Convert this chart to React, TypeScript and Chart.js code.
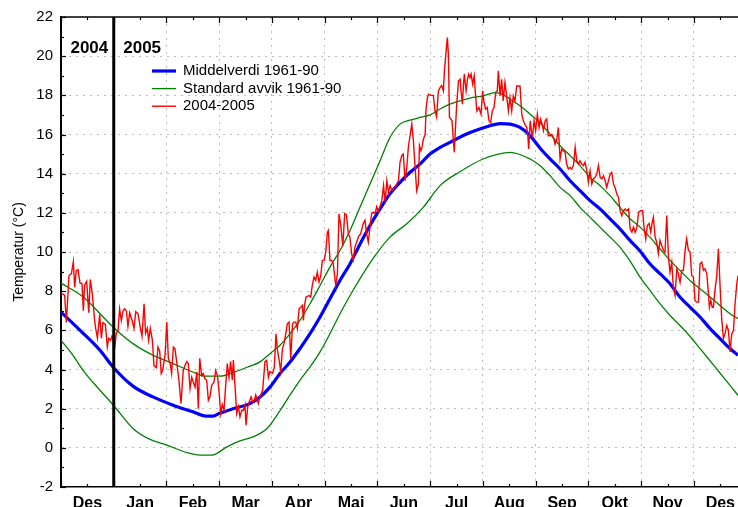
import React, { useEffect, useRef } from "react";
import { Chart, registerables } from "chart.js";

Chart.register(...registerables);

const FONT = "'Liberation Sans', Arial, Helvetica, sans-serif";

// ---------- axis / labels ----------
const monthLabels = ["Des", "Jan", "Feb", "Mar", "Apr", "Mai", "Jun", "Jul", "Aug", "Sep", "Okt", "Nov", "Des"];
const monthSpan = 365 / 12; // days per month step on the axis
const axisMaxDay = 390.4;
const yMin = -2;
const yMax = 22;
const yearBoundaryDay = 365 / 12;
const yearLabels = ["2004", "2005"];
const legendLabels = ["Middelverdi 1961-90", "Standard avvik 1961-90", "2004-2005"];
const yTitle = "Temperatur (°C)";

// ---------- data (day 0 = 1 Dec 2004) ----------
const meanDays = [0, 11, 22.5, 30, 41.5, 53, 64.6, 76.1, 83.6, 87.7, 91.1, 99.2, 109, 114.8, 120.5, 126.3, 132.1, 137.8, 143.6, 149.4, 155.1, 160.9, 166.7, 172.4, 178.2, 184, 189.7, 195.5, 201.3, 207, 212.8, 218.6, 224.3, 235.9, 247.4, 253.2, 259, 264.7, 270.5, 276.3, 282, 287.8, 293.6, 299.3, 305.1, 310.8, 316.6, 322.3, 328.1, 333.9, 339.6, 345.4, 351.2, 356.9, 362.7, 368.5, 374.3, 380, 385.8, 390.4];
const meanTemps = [6.93, 6.0, 4.98, 4.13, 3.15, 2.6, 2.18, 1.84, 1.62, 1.62, 1.75, 2.0, 2.26, 2.6, 3.1, 3.8, 4.38, 5.07, 5.83, 6.68, 7.61, 8.55, 9.4, 10.4, 11.35, 12.2, 12.97, 13.56, 14.07, 14.49, 15.0, 15.34, 15.6, 16.1, 16.45, 16.56, 16.53, 16.36, 15.94, 15.3, 14.75, 14.24, 13.64, 13.13, 12.62, 12.2, 11.69, 11.18, 10.59, 10.05, 9.4, 8.89, 8.38, 7.7, 7.19, 6.68, 6.09, 5.58, 5.07, 4.73];

const upperDays = [0, 12.9, 22.5, 30, 41.5, 53, 64.6, 77.3, 83, 91.7, 100.3, 107.8, 114.8, 120.5, 126.3, 132.1, 137.8, 143.6, 149.4, 155.1, 160.9, 166.7, 172.4, 178.2, 184, 189.7, 195.5, 201.3, 207, 212.8, 218.6, 224.3, 235.9, 243.4, 250.3, 254.3, 259, 264.7, 270.5, 276.3, 282, 287.8, 293.6, 299.3, 305.1, 310.8, 316.6, 322.3, 328.1, 333.9, 339.6, 345.4, 351.2, 356.9, 362.7, 368.5, 374.3, 380, 385.8, 390.4];
const upperTemps = [8.41, 7.7, 6.85, 6.17, 5.32, 4.73, 4.3, 3.83, 3.66, 3.66, 3.88, 4.13, 4.39, 4.81, 5.24, 5.83, 6.51, 7.36, 8.29, 9.23, 10.08, 11.1, 12.28, 13.47, 14.66, 15.85, 16.53, 16.73, 16.87, 17.0, 17.3, 17.55, 17.86, 17.97, 18.14, 18.06, 17.8, 17.47, 17.04, 16.6, 16.02, 15.43, 14.92, 14.41, 13.81, 13.39, 12.88, 12.28, 11.7, 11.27, 10.76, 10.16, 9.57, 9.06, 8.55, 8.12, 7.7, 7.27, 6.85, 6.6];

const lowerDays = [0, 6.2, 12.7, 22.5, 30, 41.5, 51.3, 61.1, 72.7, 80.2, 87.1, 95.7, 103.2, 110.7, 118.8, 126.3, 132.1, 137.8, 143.6, 149.4, 155.1, 160.9, 166.7, 179.2, 189.7, 199.4, 208.9, 218.6, 230.1, 243.4, 259, 270.5, 276.3, 282, 287.8, 293.6, 299.3, 305.1, 310.8, 316.6, 322.3, 328.1, 333.9, 339.6, 345.4, 351.2, 356.9, 362.7, 368.5, 372.5, 380, 385.8, 390.4];
const lowerTemps = [5.49, 4.81, 3.96, 2.94, 2.2, 0.99, 0.43, 0.14, -0.25, -0.37, -0.37, 0.05, 0.36, 0.56, 0.99, 1.9, 2.7, 3.45, 4.13, 4.9, 5.83, 6.85, 7.78, 9.57, 10.76, 11.44, 12.28, 13.39, 14.1, 14.75, 15.09, 14.75, 14.41, 13.9, 13.3, 12.88, 12.28, 11.77, 11.27, 10.76, 10.25, 9.55, 8.72, 8.04, 7.36, 6.76, 6.25, 5.7, 5.07, 4.64, 3.82, 3.19, 2.68];

const obsDays = [0, 2.1, 3.1, 4.6, 6, 7.1, 7.9, 8.8, 9.8, 11, 12.1, 12.9, 13.6, 14.8, 16, 16.9, 18, 19.4, 20, 21, 22.3, 23.3, 24.2, 25.6, 26.7, 27.5, 28.6, 29.4, 31, 31.9, 32.9, 33.8, 34.8, 35.8, 36.7, 37.7, 38.6, 39.6, 41, 42.1, 43.1, 44.4, 45.6, 46.7, 47.9, 48.8, 49.8, 50.5, 51.5, 52.7, 53.6, 55, 55.9, 56.9, 57.8, 58.6, 60, 61, 61.9, 62.9, 63.8, 64.8, 65.7, 66.7, 68, 69.2, 70.5, 71.5, 72.5, 73.4, 74.4, 75.4, 76.3, 77.3, 78.3, 79.2, 80, 81.1, 82, 83, 84, 85, 85.9, 86.9, 88.2, 89.2, 90.2, 91.1, 92.1, 93, 94, 94.9, 95.9, 96.9, 97.8, 98.8, 99.4, 100.4, 101.3, 102.3, 103.2, 104.2, 105.2, 106.1, 106.7, 107.7, 108.6, 109.6, 110.6, 111.5, 112.3, 113.8, 114.7, 116.3, 117.6, 118.6, 119.6, 120.5, 122, 123, 124, 124.8, 125.8, 126.7, 127.7, 128.6, 129.6, 130.5, 131.5, 132.5, 133.5, 134.4, 135.4, 136.3, 137.3, 138.3, 139.2, 139.8, 140.4, 141.3, 143, 144, 144.9, 145.9, 146.9, 147.8, 148.8, 149.8, 150.7, 151.7, 152.7, 153.6, 154.2, 155.1, 156.1, 157, 158.4, 159.4, 160.3, 161.3, 162.5, 163.6, 164.6, 165.7, 166.6, 167.6, 168.5, 169.5, 171.5, 172.8, 174.3, 175.3, 176.2, 177.2, 178.2, 179.1, 180.1, 181.1, 182, 183, 185, 186, 186.9, 187.9, 188.8, 189.8, 190.8, 191.7, 192.6, 193.6, 194.6, 195.5, 196.5, 197.4, 198.4, 199.4, 200.3, 201.3, 202.3, 203.2, 204.2, 205.1, 206.1, 206.7, 207.5, 208.2, 209, 210, 210.5, 211.3, 212, 213.2, 214.7, 215.7, 216.6, 217.6, 218.6, 219.5, 220.5, 221.1, 222.1, 222.8, 223.4, 224, 224.8, 225.5, 226.2, 226.8, 227.4, 228.2, 229.2, 230.2, 230.7, 231.5, 232.1, 232.6, 233.6, 234.4, 235.1, 235.9, 236.5, 237.4, 238.3, 239, 239.8, 241, 242.2, 243.2, 243.8, 244.8, 245.8, 246.8, 247.8, 248.7, 249.7, 250.7, 251.6, 252.2, 253.2, 254.1, 255, 256, 257, 258, 258.9, 259.9, 260.8, 261.8, 262.8, 263.7, 264.7, 265.7, 266.6, 267.6, 268.6, 269.2, 269.7, 270.6, 271.4, 272, 272.8, 273.7, 274.7, 275.7, 276.6, 277.4, 278.2, 279.2, 280.1, 281, 282, 283, 284, 284.9, 285.9, 286.8, 287.8, 288.8, 289.7, 290.7, 291.6, 292.6, 293.6, 294.5, 295.5, 296.5, 297.4, 298.4, 299.3, 300.3, 301.3, 302.2, 303.2, 304.1, 305.1, 306.1, 307, 308, 309, 309.9, 310.9, 311.9, 312.8, 313.8, 314.7, 315.7, 316.7, 317.6, 318.6, 319.5, 320.5, 321.5, 322.4, 323.4, 324.4, 325.3, 326.3, 327.3, 328.2, 329.2, 330.1, 331.1, 332.1, 333.1, 334.3, 335.4, 336.2, 337.2, 338.1, 339.1, 340.1, 340.8, 341.6, 342.6, 343.5, 344.5, 345.4, 346.4, 347.4, 348.3, 349.3, 350.3, 351.2, 352.2, 353.1, 354.1, 355.1, 356, 357, 358, 358.9, 359.9, 360.8, 361.8, 362.8, 363.7, 364.7, 365.6, 366.6, 367.6, 368.5, 369.5, 370.5, 371.4, 372.4, 373.3, 373.9, 374.7, 375.5, 376.2, 377.2, 378.1, 379.1, 380.1, 381, 382, 382.9, 383.9, 384.9, 385.8, 386.8, 387.8, 388.7, 389.7, 390.4];
const obsTemps = [7.9, 7.8, 6.4, 8.8, 8.9, 9.5, 8.2, 9.05, 9.1, 8.4, 8.4, 7.0, 8.3, 8.5, 6.9, 8.6, 7.9, 6.5, 6.1, 5.6, 6.8, 5.6, 6.4, 6.3, 5.15, 5.6, 5.5, 5.7, 5.15, 5.85, 6.0, 7.1, 6.5, 7.0, 7.1, 7.0, 6.2, 6.9, 6.5, 6.1, 6.95, 6.85, 6.2, 5.7, 7.35, 5.85, 6.1, 5.5, 6.1, 5.5, 4.2, 4.1, 5.15, 4.95, 3.8, 3.95, 4.73, 6.42, 4.57, 4.32, 3.8, 5.15, 5.07, 4.4, 3.45, 2.26, 3.95, 4.2, 4.4, 4.3, 3.03, 3.6, 3.35, 3.1, 3.88, 2.0, 4.57, 3.7, 3.8, 3.54, 3.45, 2.43, 2.6, 3.2, 3.35, 3.95, 3.7, 2.94, 1.75, 2.2, 1.92, 3.1, 4.3, 3.6, 4.4, 3.45, 4.48, 3.1, 1.75, 2.1, 1.58, 1.92, 1.92, 2.2, 1.16, 2.1, 2.35, 2.6, 2.35, 2.43, 2.7, 2.26, 2.6, 2.94, 4.4, 4.47, 3.6, 3.9, 3.8, 4.1, 5.82, 5.0, 4.47, 3.9, 5.07, 5.32, 5.82, 6.33, 6.42, 4.55, 6.33, 6.42, 6.42, 6.08, 7.1, 7.18, 7.27, 6.5, 7.27, 7.7, 7.78, 7.7, 8.3, 8.72, 8.55, 8.97, 8.47, 8.8, 9.57, 9.57, 10.0, 11.0, 11.1, 9.57, 9.57, 9.4, 8.3, 8.88, 11.95, 11.4, 10.3, 11.96, 11.9, 10.9, 10.77, 9.9, 9.6, 10.25, 10.77, 10.94, 11.45, 11.62, 10.94, 10.5, 11.27, 11.96, 12.03, 11.96, 12.3, 12.03, 12.62, 13.39, 12.54, 13.64, 13.05, 13.39, 13.13, 13.22, 13.3, 13.47, 13.64, 14.58, 14.92, 15.0, 13.64, 14.32, 15.34, 15.94, 16.53, 15.68, 14.32, 13.13, 13.47, 15.43, 15.17, 15.34, 15.77, 16.0, 17.3, 17.89, 18.06, 18.0, 18.0, 17.2, 16.9, 18.2, 18.4, 18.5, 18.23, 19.25, 20.27, 20.95, 20.1, 16.87, 16.8, 16.7, 15.77, 15.09, 16.2, 17.55, 18.74, 18.82, 18.23, 17.55, 18.57, 19.08, 18.23, 18.82, 19.08, 18.9, 19.08, 18.57, 18.99, 18.06, 17.2, 17.38, 17.04, 18.23, 17.72, 17.3, 17.38, 16.7, 16.6, 17.2, 17.38, 18.15, 18.23, 19.25, 17.97, 18.82, 17.72, 18.65, 17.97, 17.2, 17.89, 17.2, 17.97, 17.72, 18.48, 18.48, 18.48, 17.04, 16.7, 16.5, 16.36, 15.94, 15.26, 16.7, 16.1, 15.94, 16.7, 16.2, 17.04, 16.36, 16.79, 16.53, 16.2, 16.7, 16.79, 15.94, 15.94, 16.0, 15.85, 15.51, 15.77, 16.36, 14.75, 15.26, 15.17, 15.09, 14.49, 14.24, 14.32, 14.24, 14.41, 15.34, 14.66, 14.49, 14.66, 14.49, 14.41, 14.58, 14.15, 13.56, 14.15, 13.47, 13.73, 13.81, 13.98, 14.41, 13.81, 13.73, 13.9, 13.64, 13.3, 13.64, 13.98, 14.07, 13.47, 13.3, 12.96, 12.79, 12.11, 11.86, 12.11, 12.2, 12.11, 12.2, 11.18, 11.01, 11.27, 11.01, 11.27, 12.03, 12.11, 12.11, 11.27, 10.67, 11.35, 11.45, 11.01, 11.45, 11.78, 10.76, 10.5, 9.91, 10.59, 10.33, 10.08, 9.99, 11.86, 9.74, 8.97, 9.48, 8.2, 7.78, 9.14, 8.9, 8.46, 9.06, 9.06, 10.08, 10.67, 10.08, 10.0, 8.8, 8.72, 7.53, 7.44, 7.44, 9.4, 9.48, 9.06, 9.14, 8.9, 7.95, 7.18, 7.53, 7.18, 7.18, 8.12, 8.72, 10.16, 8.2, 6.6, 5.58, 5.82, 6.25, 6.0, 4.9, 5.82, 6.0, 7.36, 8.37, 8.8];

function pts(days: number[], temps: number[]) {
  return days.map((d, i) => ({ x: d, y: temps[i] }));
}

const isBoundary = (v: number) => Math.abs(v / monthSpan - Math.round(v / monthSpan)) < 1e-6;

const decorPlugin = {
  id: "decor",
  afterDraw(chart: any) {
    const { ctx, chartArea: a, scales } = chart;
    const xs = scales.x;
    const ys = scales.y;
    ctx.save();
    ctx.strokeStyle = "#000";
    ctx.lineWidth = 1.5;
    ctx.beginPath();
    ctx.moveTo(a.left, a.top);
    ctx.lineTo(a.right, a.top);
    ctx.stroke();
    ctx.lineWidth = 1.2;
    xs.ticks.forEach((t: any) => {
      const px = Math.round(xs.getPixelForValue(t.value)) + 0.5;
      const len = isBoundary(t.value) ? 6 : 3;
      ctx.beginPath();
      ctx.moveTo(px, a.bottom);
      ctx.lineTo(px, a.bottom - len);
      ctx.moveTo(px, a.top);
      ctx.lineTo(px, a.top + len);
      ctx.stroke();
    });
    ys.ticks.forEach((t: any) => {
      const py = Math.round(ys.getPixelForValue(t.value)) + 0.5;
      const len = t.value % 2 === 0 ? 5 : 3;
      ctx.beginPath();
      ctx.moveTo(a.left, py);
      ctx.lineTo(a.left + len, py);
      ctx.stroke();
    });
    // year labels
    const bx = xs.getPixelForValue(yearBoundaryDay);
    ctx.fillStyle = "#000";
    ctx.font = `bold 17px ${FONT}`;
    ctx.textBaseline = "middle";
    ctx.textAlign = "right";
    ctx.fillText(yearLabels[0], bx - 5.5, a.top + 31.5);
    ctx.textAlign = "left";
    ctx.fillText(yearLabels[1], bx + 9.5, a.top + 31.5);
    // legend
    ctx.font = `15px ${FONT}`;
    legendLabels.forEach((lab, i) => {
      const ds = chart.data.datasets.find((d: any) => d.label === lab);
      const y = a.top + 54 + i * 17.6;
      ctx.strokeStyle = ds.borderColor;
      ctx.lineWidth = ds.borderWidth;
      ctx.beginPath();
      ctx.moveTo(a.left + 91, y);
      ctx.lineTo(a.left + 115, y);
      ctx.stroke();
      ctx.fillStyle = "#000";
      ctx.textAlign = "left";
      ctx.fillText(lab, a.left + 122, y);
    });
    ctx.restore();
  },
};

export default function App() {
  const ref = useRef<HTMLCanvasElement>(null);
  useEffect(() => {
    const chart = new Chart(ref.current as HTMLCanvasElement, {
      type: "line",
      data: {
        datasets: [
          { label: legendLabels[2], data: pts(obsDays, obsTemps), borderColor: "#ff0000", borderWidth: 1.4, pointRadius: 0, order: 1 },
          { label: legendLabels[0], data: pts(meanDays, meanTemps), borderColor: "#0000ff", borderWidth: 3.2, pointRadius: 0, order: 2, cubicInterpolationMode: "monotone" },
          { label: legendLabels[1], data: pts(upperDays, upperTemps), borderColor: "#008000", borderWidth: 1.3, pointRadius: 0, order: 3, cubicInterpolationMode: "monotone" },
          { label: "", data: pts(lowerDays, lowerTemps), borderColor: "#008000", borderWidth: 1.3, pointRadius: 0, order: 3, cubicInterpolationMode: "monotone" },
          { label: "", data: [{ x: yearBoundaryDay, y: yMin }, { x: yearBoundaryDay, y: yMax }], borderColor: "#000", borderWidth: 3, pointRadius: 0, order: 0 },
        ] as any,
      },
      options: {
        animation: false,
        responsive: true,
        maintainAspectRatio: false,
        layout: { padding: { top: 16, left: 0, right: 0, bottom: 0 } },
        plugins: { legend: { display: false }, tooltip: { enabled: false }, title: { display: false } },
        scales: {
          x: {
            type: "linear",
            min: 0,
            max: axisMaxDay,
            afterBuildTicks: (s: any) => {
              const ticks: any[] = [];
              for (let i = 0; i <= 13; i++) {
                const b = i * monthSpan;
                const m = (i + 0.5) * monthSpan;
                if (b <= axisMaxDay) ticks.push({ value: b });
                if (m <= axisMaxDay) ticks.push({ value: m });
              }
              s.ticks = ticks;
            },
            afterFit: (s: any) => {
              s.height = 20;
              s.paddingLeft = 0;
              s.paddingRight = 0;
            },
            grid: {
              drawTicks: false,
              lineWidth: 1,
              color: (c: any) => {
                const v = c.tick ? c.tick.value : 0;
                return isBoundary(v) && v > 0 ? "#bdbdbd" : "rgba(0,0,0,0)";
              },
            },
            border: { display: true, color: "#000", width: 1.5, dash: [2, 5] },
            ticks: {
              autoSkip: false,
              maxRotation: 0,
              padding: 7,
              color: "#000",
              font: { family: FONT, size: 16, weight: "bold" },
              callback: (v: any) => {
                const k = Number(v) / monthSpan;
                if (isBoundary(Number(v))) return "";
                return monthLabels[Math.floor(k)] || "";
              },
            },
          },
          y: {
            type: "linear",
            min: yMin,
            max: yMax,
            afterBuildTicks: (s: any) => {
              const ticks: any[] = [];
              for (let v = yMin; v <= yMax; v++) ticks.push({ value: v });
              s.ticks = ticks;
            },
            afterFit: (s: any) => {
              s.width = 61;
            },
            grid: {
              drawTicks: false,
              lineWidth: 1,
              color: (c: any) => {
                const v = c.tick ? c.tick.value : 0;
                return v % 2 === 0 && v > yMin && v < yMax ? "#bdbdbd" : "rgba(0,0,0,0)";
              },
            },
            border: { display: true, color: "#000", width: 2, dash: [2, 5] },
            title: {
              display: true,
              text: yTitle,
              color: "#000",
              font: { family: FONT, size: 14 },
              padding: { top: 11, bottom: 0 },
            },
            ticks: {
              autoSkip: false,
              padding: 8,
              color: "#000",
              font: { family: FONT, size: 15 },
              callback: (v: any) => (Number(v) % 2 === 0 ? String(v) : ""),
            },
          },
        },
      } as any,
      plugins: [decorPlugin],
    });
    return () => chart.destroy();
  }, []);

  return (
    <div style={{ position: "absolute", left: 0, top: 0, width: 738, height: 507, background: "#fff", overflow: "hidden" }}>
      <canvas ref={ref} />
    </div>
  );
}
